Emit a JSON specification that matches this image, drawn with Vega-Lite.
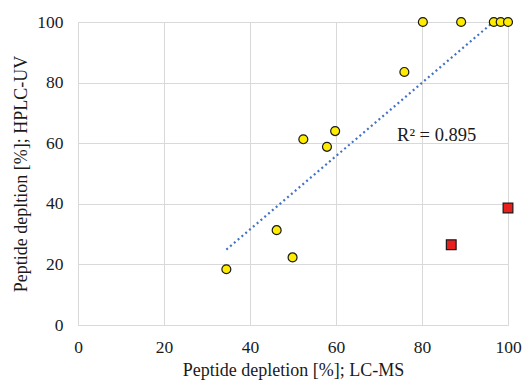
{
  "$schema": "https://vega.github.io/schema/vega-lite/v6.json",
  "width": 430,
  "height": 303,
  "autosize": "none",
  "padding": {"left": 78, "top": 22, "right": 18, "bottom": 56},
  "background": "white",
  "config": {
    "view": {"stroke": null},
    "font": "Liberation Serif",
    "axis": {
      "labelFont": "Liberation Serif",
      "titleFont": "Liberation Serif",
      "labelFontSize": 17.5,
      "titleFontSize": 18,
      "labelColor": "#1a1a1a",
      "titleColor": "#1a1a1a",
      "titleFontWeight": "normal",
      "gridColor": "#d9d9d9",
      "domainColor": "#d9d9d9",
      "ticks": false
    }
  },
  "datasets": {
    "pts": [
      {"lcms": 34.5, "hplc": 18.4, "group": "yes"},
      {"lcms": 46.2, "hplc": 31.3, "group": "yes"},
      {"lcms": 49.9, "hplc": 22.3, "group": "yes"},
      {"lcms": 52.4, "hplc": 61.3, "group": "yes"},
      {"lcms": 57.9, "hplc": 58.8, "group": "yes"},
      {"lcms": 59.8, "hplc": 64.0, "group": "yes"},
      {"lcms": 75.9, "hplc": 83.5, "group": "yes"},
      {"lcms": 80.2, "hplc": 100, "group": "yes"},
      {"lcms": 89.1, "hplc": 100, "group": "yes"},
      {"lcms": 96.7, "hplc": 100, "group": "yes"},
      {"lcms": 98.3, "hplc": 100, "group": "yes"},
      {"lcms": 100, "hplc": 100, "group": "yes"}
    ],
    "red": [
      {"lcms": 86.8, "hplc": 26.5},
      {"lcms": 100, "hplc": 38.6}
    ],
    "trend": [
      {"lcms": 34.5, "hplc": 24.9},
      {"lcms": 96.6, "hplc": 100}
    ],
    "label": [
      {"lcms": 74.2, "hplc": 62.6, "text": "R² = 0.895"}
    ]
  },
  "layer": [
    {
      "data": {"name": "trend"},
      "mark": {"type": "line", "color": "#4472c4", "strokeWidth": 2.2, "strokeDash": [2, 3], "clip": true},
      "encoding": {
        "x": {"field": "lcms", "type": "quantitative", "scale": {"domain": [0, 100]},
          "axis": {"values": [0, 20, 40, 60, 80, 100], "title": "Peptide depletion [%]; LC-MS", "labelFlush": false, "labelPadding": 13, "titlePadding": 6}},
        "y": {"field": "hplc", "type": "quantitative", "scale": {"domain": [0, 100]},
          "axis": {"values": [0, 20, 40, 60, 80, 100], "title": "Peptide depltion [%]; HPLC-UV", "labelPadding": 15, "titlePadding": 6}}
      }
    },
    {
      "data": {"name": "pts"},
      "mark": {"type": "point", "shape": "circle", "filled": true, "fill": "#ffec00", "stroke": "#1a1a1a", "strokeWidth": 1.2, "size": 80, "opacity": 1},
      "encoding": {
        "x": {"field": "lcms", "type": "quantitative"},
        "y": {"field": "hplc", "type": "quantitative"}
      }
    },
    {
      "data": {"name": "red"},
      "mark": {"type": "point", "shape": "square", "filled": true, "fill": "#e8201e", "stroke": "#1a1a1a", "strokeWidth": 1.2, "size": 95, "opacity": 1},
      "encoding": {
        "x": {"field": "lcms", "type": "quantitative"},
        "y": {"field": "hplc", "type": "quantitative"}
      }
    },
    {
      "data": {"name": "label"},
      "mark": {"type": "text", "font": "Liberation Serif", "fontSize": 18.5, "align": "left", "baseline": "middle", "color": "#1a1a1a"},
      "encoding": {
        "x": {"field": "lcms", "type": "quantitative"},
        "y": {"field": "hplc", "type": "quantitative"},
        "text": {"field": "text"}
      }
    }
  ]
}
